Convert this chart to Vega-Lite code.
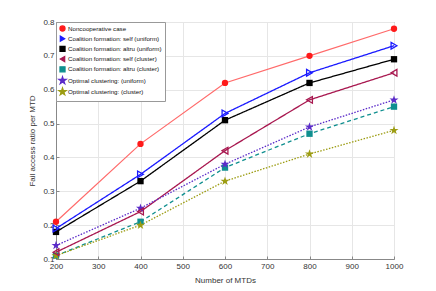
{
  "$schema": "https://vega.github.io/schema/vega-lite/v6.json",
  "width": 338,
  "height": 237,
  "autosize": "none",
  "padding": {"left": 56, "top": 22, "right": 42, "bottom": 32},
  "background": "white",
  "config": {
    "font": "Liberation Sans",
    "view": {"stroke": "#888888", "strokeWidth": 1},
    "axis": {
      "labelFontSize": 8, "labelColor": "#333333", "titleFontSize": 8, "titleColor": "#333333",
      "titleFontWeight": "normal", "gridColor": "#e6e6e6", "domainColor": "#888888",
      "tickColor": "#888888", "tickSize": -3, "labelFlush": false
    },
    "legend": {
      "labelFontSize": 6.2, "labelColor": "#111111", "strokeColor": "#999999", "fillColor": "white",
      "padding": 3, "rowPadding": -0.8, "symbolSize": 26, "labelLimit": 300, "cornerRadius": 0,
      "symbolStrokeWidth": 1.2, "symbolOpacity": 1, "labelOffset": 2
    }
  },
  "data": {"values": [
    {"s": "Noncooperative case", "n": 200, "v": 0.21},
    {"s": "Noncooperative case", "n": 400, "v": 0.44},
    {"s": "Noncooperative case", "n": 600, "v": 0.62},
    {"s": "Noncooperative case", "n": 800, "v": 0.70},
    {"s": "Noncooperative case", "n": 1000, "v": 0.78},
    {"s": "Coalition formation: self (uniform)", "n": 200, "v": 0.19},
    {"s": "Coalition formation: self (uniform)", "n": 400, "v": 0.35},
    {"s": "Coalition formation: self (uniform)", "n": 600, "v": 0.53},
    {"s": "Coalition formation: self (uniform)", "n": 800, "v": 0.65},
    {"s": "Coalition formation: self (uniform)", "n": 1000, "v": 0.73},
    {"s": "Coalition formation: altru (uniform)", "n": 200, "v": 0.18},
    {"s": "Coalition formation: altru (uniform)", "n": 400, "v": 0.33},
    {"s": "Coalition formation: altru (uniform)", "n": 600, "v": 0.51},
    {"s": "Coalition formation: altru (uniform)", "n": 800, "v": 0.62},
    {"s": "Coalition formation: altru (uniform)", "n": 1000, "v": 0.69},
    {"s": "Coalition formation: self (cluster)", "n": 200, "v": 0.12},
    {"s": "Coalition formation: self (cluster)", "n": 400, "v": 0.24},
    {"s": "Coalition formation: self (cluster)", "n": 600, "v": 0.42},
    {"s": "Coalition formation: self (cluster)", "n": 800, "v": 0.57},
    {"s": "Coalition formation: self (cluster)", "n": 1000, "v": 0.65},
    {"s": "Coalition formation: altru (cluster)", "n": 200, "v": 0.11},
    {"s": "Coalition formation: altru (cluster)", "n": 400, "v": 0.21},
    {"s": "Coalition formation: altru (cluster)", "n": 600, "v": 0.37},
    {"s": "Coalition formation: altru (cluster)", "n": 800, "v": 0.47},
    {"s": "Coalition formation: altru (cluster)", "n": 1000, "v": 0.55},
    {"s": "Optimal clustering: (uniform)", "n": 200, "v": 0.14},
    {"s": "Optimal clustering: (uniform)", "n": 400, "v": 0.25},
    {"s": "Optimal clustering: (uniform)", "n": 600, "v": 0.38},
    {"s": "Optimal clustering: (uniform)", "n": 800, "v": 0.49},
    {"s": "Optimal clustering: (uniform)", "n": 1000, "v": 0.57},
    {"s": "Optimal clustering: (cluster)", "n": 200, "v": 0.11},
    {"s": "Optimal clustering: (cluster)", "n": 400, "v": 0.20},
    {"s": "Optimal clustering: (cluster)", "n": 600, "v": 0.33},
    {"s": "Optimal clustering: (cluster)", "n": 800, "v": 0.41},
    {"s": "Optimal clustering: (cluster)", "n": 1000, "v": 0.48}
  ]},
  "encoding": {
    "x": {"field": "n", "type": "quantitative", "title": "Number of MTDs",
      "scale": {"domain": [200, 1000], "nice": false},
      "axis": {"values": [200, 300, 400, 500, 600, 700, 800, 900, 1000], "format": "d", "titlePadding": 6, "labelPadding": 6}},
    "y": {"field": "v", "type": "quantitative", "title": "Fail access ratio per MTD",
      "scale": {"domain": [0.1, 0.8], "nice": false},
      "axis": {"values": [0.1, 0.2, 0.3, 0.4, 0.5, 0.6, 0.7, 0.8], "format": ".1f", "titlePadding": 6, "labelPadding": 5}},
    "color": {"field": "s", "type": "nominal", "title": null,
      "scale": {
        "domain": ["Noncooperative case", "Coalition formation: self (uniform)", "Coalition formation: altru (uniform)", "Coalition formation: self (cluster)", "Coalition formation: altru (cluster)", "Optimal clustering: (uniform)", "Optimal clustering: (cluster)"],
        "range": ["#ff1a1a", "#1a1aff", "#000000", "#a8174f", "#0f8f8f", "#5b2bc9", "#9c9c12"]
      },
      "legend": {"orient": "none", "legendX": 0, "legendY": 0}
    }
  },
  "layer": [
    {
      "transform": [{"filter": "datum.s == 'Noncooperative case'"}],
      "mark": {"type": "line", "strokeWidth": 1.2, "color": "#ff6a6a"},
      "encoding": {"color": {"value": "#ff6a6a"}}
    },
    {
      "transform": [{"filter": "datum.s != 'Noncooperative case'"}],
      "mark": {"type": "line", "strokeWidth": 1.3},
      "encoding": {
        "strokeDash": {"field": "s", "type": "nominal", "legend": null,
          "scale": {
            "domain": ["Coalition formation: self (uniform)", "Coalition formation: altru (uniform)", "Coalition formation: self (cluster)", "Coalition formation: altru (cluster)", "Optimal clustering: (uniform)", "Optimal clustering: (cluster)"],
            "range": [[1, 0], [1, 0], [1, 0], [4, 3], [1.5, 1.5], [1.5, 1.5]]
          }
        }
      }
    },
    {
      "transform": [{"filter": "datum.s != 'Coalition formation: self (uniform)' && datum.s != 'Coalition formation: self (cluster)'"}],
      "mark": {"type": "point", "filled": true, "opacity": 1, "size": 40},
      "encoding": {
        "shape": {"field": "s", "type": "nominal", "title": null,
          "scale": {
            "domain": ["Noncooperative case", "Coalition formation: self (uniform)", "Coalition formation: altru (uniform)", "Coalition formation: self (cluster)", "Coalition formation: altru (cluster)", "Optimal clustering: (uniform)", "Optimal clustering: (cluster)"],
            "range": ["circle", "triangle-right", "square", "triangle-left", "square", "M0,-1.5L0.337,-0.464L1.427,-0.464L0.545,0.177L0.882,1.214L0,0.573L-0.882,1.214L-0.545,0.177L-1.427,-0.464L-0.337,-0.464Z", "M0,-1.5L0.337,-0.464L1.427,-0.464L0.545,0.177L0.882,1.214L0,0.573L-0.882,1.214L-0.545,0.177L-1.427,-0.464L-0.337,-0.464Z"]
          },
          "legend": {"orient": "none", "legendX": 0, "legendY": 0}
        }
      }
    },
    {
      "transform": [{"filter": "datum.s == 'Coalition formation: self (uniform)' || datum.s == 'Coalition formation: self (cluster)'"}],
      "mark": {"type": "point", "filled": false, "opacity": 1, "size": 45, "strokeWidth": 1.3},
      "encoding": {
        "shape": {"field": "s", "type": "nominal", "title": null, "legend": {"orient": "none", "legendX": 0, "legendY": 0}}
      }
    }
  ]
}
